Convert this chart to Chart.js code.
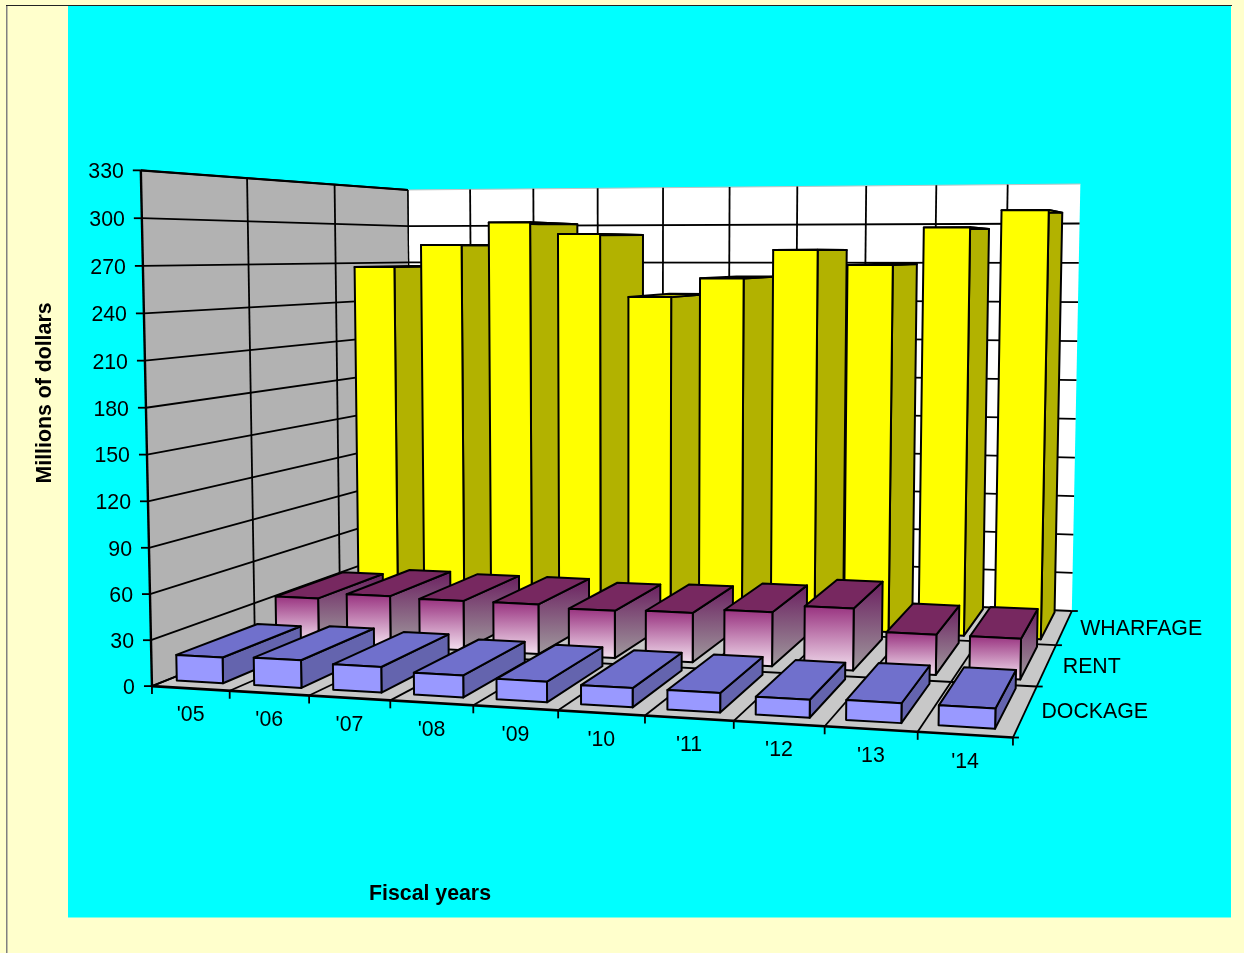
<!DOCTYPE html>
<html>
<head>
<meta charset="utf-8">
<title>Port revenue by fiscal year</title>
<script src="https://cdn.jsdelivr.net/npm/chart.js@4"></script>
<style>
  html, body { margin: 0; padding: 0; background: #ffffcc; }
  canvas { display: block; }
</style>
</head>
<body>
<canvas id="myChart" width="1244" height="953"></canvas>
<script>
const fiscalYears = ["'05", "'06", "'07", "'08", "'09", "'10", "'11", "'12", "'13", "'14"];
const seriesNames = ['DOCKAGE', 'RENT', 'WHARFAGE'];
const dockage = [17, 18, 16.5, 14, 13, 12, 12, 11, 12, 12];
const rent = [32, 36, 35, 35, 33, 34, 37, 42, 27, 27];
const wharfage = [267, 284, 301, 292, 245, 259, 280, 269, 296, 308];
const axisMax = 330;
const axisStep = 30;

const FONT = '21.3px "Liberation Sans", Arial, sans-serif';
const BOLD = 'bold 21.3px "Liberation Sans", Arial, sans-serif';
const barDepth = 0.8;     // share of a row's depth taken by its bars
const depthShift = 0.012; // rows sit slightly behind their floor bands
const barShift = -0.005;  // bars sit a little left of the category centre
const barSpread = 0.005;  // and fan out slightly towards the right

// camera anchors: [category, value, depth 0..1, screen x, screen y]
const anchors = [
  [0, 330, 0, 141.5, 170], [0, 180, 0, 145, 406.5], [0, 0, 0, 152.5, 686],
  [1, 0, 0, 230, 690], [2, 0, 0, 309, 696], [3, 0, 0, 391, 702], [4, 0, 0, 473, 705.5],
  [5, 0, 0, 558, 711], [6, 0, 0, 645, 715.5], [8, 0, 0, 824, 727], [9, 0, 0, 917, 732],
  [10, 0, 0, 1013, 737],
  [0, 330, 1, 408, 190], [3, 330, 1, 597, 188.5], [7, 330, 1, 866, 186], [10, 330, 1, 1081, 184.5],
  [10, 0, 1, 1072, 611], [10, 0, 1 / 3, 1037, 686], [10, 0, 2 / 3, 1056, 644],
  [0, 330, 1 / 3, 247.7, 178], [0, 330, 2 / 3, 334, 184.7]
];

// least squares fit of the 3x4 projection, last term fixed to 1
function fitCamera(rows) {
  const n = 11;
  const A = [];
  for (let i = 0; i < n; i++) A.push(new Array(n + 1).fill(0));
  function addEq(c, t) {
    for (let i = 0; i < n; i++) {
      for (let j = 0; j < n; j++) A[i][j] += c[i] * c[j];
      A[i][n] += c[i] * t;
    }
  }
  rows.forEach(function (r) {
    const x = r[0] / 10, y = r[1] / axisMax, z = r[2], sx = r[3], sy = r[4];
    addEq([x, y, z, 1, 0, 0, 0, 0, -sx * x, -sx * y, -sx * z], sx);
    addEq([0, 0, 0, 0, x, y, z, 1, -sy * x, -sy * y, -sy * z], sy);
  });
  for (let i = 0; i < n; i++) {
    let p = i;
    for (let k = i + 1; k < n; k++) if (Math.abs(A[k][i]) > Math.abs(A[p][i])) p = k;
    const tmp = A[i]; A[i] = A[p]; A[p] = tmp;
    for (let k = 0; k < n; k++) {
      if (k === i) continue;
      const f = A[k][i] / A[i][i];
      for (let j = i; j <= n; j++) A[k][j] -= f * A[i][j];
    }
  }
  return A.map(function (row, i) { return row[n] / row[i]; });
}
const cam = fitCamera(anchors);

// x and y are fractions of the chart area, z is depth 0..1
function project(x, y, z) {
  const w = cam[8] * x + cam[9] * y + cam[10] * z + 1;
  return {
    x: (cam[0] * x + cam[1] * y + cam[2] * z + cam[3]) / w,
    y: (cam[4] * x + cam[5] * y + cam[6] * z + cam[7]) / w
  };
}

function tracePath(ctx, pts) {
  ctx.beginPath();
  pts.forEach(function (p, i) { i ? ctx.lineTo(p.x, p.y) : ctx.moveTo(p.x, p.y); });
  ctx.closePath();
}

function face(ctx, pts, fill) {
  tracePath(ctx, pts);
  ctx.fillStyle = fill;
  ctx.fill();
  ctx.lineJoin = 'round';
  ctx.lineWidth = 2;
  ctx.strokeStyle = '#000';
  ctx.stroke();
}

function shade(ctx, top, bottom, stops) {
  const g = ctx.createLinearGradient(0, top, 0, bottom);
  g.addColorStop(0, stops[0]);
  g.addColorStop(1, stops[1]);
  return g;
}

// bars keep the library's layout, only the drawing goes through the camera
class Bar3dController extends Chart.BarController {
  draw() {
    const ctx = this.chart.ctx;
    const area = this.chart.chartArea;
    const ds = this.getDataset();
    const row = this.index;
    const z0 = (row + 0.5 - barDepth / 2) / 3 + depthShift;
    const z1 = (row + 0.5 + barDepth / 2) / 3 + depthShift;
    const w = area.right - area.left;
    const h = area.bottom - area.top;
    const place = function (px) {
      const v = (px - area.left) / w;
      return v + barShift + barSpread * (v - 0.5);
    };
    this.getMeta().data.forEach(function (bar) {
      const x0 = place(bar.x - bar.width / 2);
      const x1 = place(bar.x + bar.width / 2);
      const y = (area.bottom - bar.y) / h;
      const a = project(x0, y, z0), b = project(x1, y, z0);
      const c = project(x1, y, z1), d = project(x0, y, z1);
      const e = project(x0, 0, z0), f = project(x1, 0, z0), g = project(x1, 0, z1);
      const frontFill = ds.frontStops ? shade(ctx, a.y, e.y, ds.frontStops) : ds.backgroundColor;
      const sideFill = ds.sideStops ? shade(ctx, c.y, f.y, ds.sideStops) : ds.sideColor;
      face(ctx, [b, c, g, f], sideFill);
      face(ctx, [d, c, b, a], ds.topColor);
      face(ctx, [a, b, f, e], frontFill);
    });
  }
}
Bar3dController.id = 'bar3d';
Bar3dController.defaults = Chart.BarController.defaults;
Chart.register(Bar3dController);

function line(ctx, a, b, width, color) {
  ctx.beginPath();
  ctx.moveTo(a.x, a.y);
  ctx.lineTo(b.x, b.y);
  ctx.lineWidth = width || 1.8;
  ctx.strokeStyle = color || '#000';
  ctx.stroke();
}

const boxPlugin = {
  id: 'box',
  beforeDatasetsDraw: function (chart) {
    const ctx = chart.ctx;
    const yScale = chart.scales.y;
    const area = chart.chartArea;
    const n = fiscalYears.length;
    const frac = function (v) { return (area.bottom - yScale.getPixelForValue(v)) / (area.bottom - area.top); };

    // page and panel
    ctx.fillStyle = '#ffffcc';
    ctx.fillRect(0, 0, 1244, 953);
    ctx.fillStyle = '#00ffff';
    ctx.fillRect(68, 6, 1163, 911.5);
    ctx.fillStyle = '#808080';
    ctx.fillRect(6, 5, 1.5, 948);
    ctx.fillStyle = '#222';
    ctx.fillRect(6, 5, 1226, 1);

    // walls and floor
    tracePath(ctx, [project(0, 0, 1), project(1, 0, 1), project(1, 1, 1), project(0, 1, 1)]);
    ctx.fillStyle = '#fff';
    ctx.fill();
    tracePath(ctx, [project(0, 0, 0), project(0, 0, 1), project(0, 1, 1), project(0, 1, 0)]);
    ctx.fillStyle = '#b2b2b2';
    ctx.fill();
    tracePath(ctx, [project(0, 0, 0), project(1, 0, 0), project(1, 0, 1), project(0, 0, 1)]);
    ctx.fillStyle = '#c8c8c8';
    ctx.fill();
    line(ctx, project(0, 1, 1), project(1, 1, 1), 1, '#c4c4c4');

    // value gridlines and their labels
    ctx.font = FONT;
    ctx.textBaseline = 'middle';
    yScale.ticks.forEach(function (t) {
      const y = frac(t.value);
      const p0 = project(0, y, 0);
      line(ctx, { x: p0.x - 8, y: p0.y }, p0);
      line(ctx, p0, project(0, y, 1));
      if (t.value > 0 && t.value < axisMax) line(ctx, project(0, y, 1), project(1, y, 1));
      ctx.fillStyle = '#000';
      ctx.textAlign = 'right';
      ctx.fillText(t.label, p0.x - 17, p0.y + 2);
    });

    // category lines on floor and back wall, depth lines on floor and side wall
    for (let i = 0; i <= n; i++) {
      const x = i / n;
      line(ctx, project(x, 0, 0), project(x, 0, 1));
      if (i < n) line(ctx, project(x, 0, 1), project(x, 1, 1), i === 0 ? 1.2 : 1.8);
      const p = project(x, 0, 0);
      line(ctx, p, { x: p.x, y: p.y + 8 });
    }
    const rows = seriesNames.length;
    for (let j = 0; j <= rows; j++) {
      const z = j / rows;
      line(ctx, project(0, 0, z), project(1, 0, z), j === 0 ? 2.6 : 1.8);
      line(ctx, project(0, 0, z), project(0, 1, z), j === 0 ? 2.4 : (j === rows ? 1.2 : 1.8));
      const p = project(1, 0, z);
      line(ctx, p, { x: p.x + 6, y: p.y });
    }
    line(ctx, project(0, 1, 0), project(0, 1, 1), 2.2);
  },
  afterDatasetsDraw: function (chart) {
    const ctx = chart.ctx;
    const n = fiscalYears.length;
    ctx.fillStyle = '#000';
    ctx.font = FONT;
    ctx.textBaseline = 'middle';

    ctx.textAlign = 'center';
    fiscalYears.forEach(function (label, i) {
      const p = project((i + 0.5) / n, 0, 0);
      ctx.fillText(label, p.x, p.y + 27);
    });

    ctx.textAlign = 'left';
    seriesNames.forEach(function (name, j) {
      const p = project(1, 0, (j + 0.5) / seriesNames.length);
      ctx.fillText(name, p.x + 16, p.y + 2);
    });

    ctx.font = BOLD;
    ctx.textAlign = 'center';
    ctx.fillText('Fiscal years', 430, 894);
    ctx.save();
    ctx.translate(45, 393);
    ctx.rotate(-Math.PI / 2);
    ctx.fillText('Millions of dollars', 0, 0);
    ctx.restore();
  }
};

const ctx = document.getElementById('myChart');
const myChart = new Chart(ctx, {
  type: 'bar3d',
  plugins: [boxPlugin],
  data: {
    labels: fiscalYears,
    datasets: [
      {
        label: seriesNames[0], data: dockage, clip: false,
        backgroundColor: '#9999ff', sideColor: '#6464ae', topColor: '#7070cc'
      },
      {
        label: seriesNames[1], data: rent, clip: false,
        backgroundColor: '#993388', topColor: '#772860',
        frontStops: ['#993380', '#efd8ea'], sideStops: ['#6b2060', '#a09a9e']
      },
      {
        label: seriesNames[2], data: wharfage, clip: false,
        backgroundColor: '#ffff00', sideColor: '#b2b200', topColor: '#b2b200'
      }
    ]
  },
  options: {
    responsive: false,
    animation: false,
    layout: { padding: { left: 152, right: 230, top: 170, bottom: 268 } },
    datasets: { bar3d: { grouped: false, categoryPercentage: 1, barPercentage: 0.6 } },
    scales: {
      x: { type: 'category', offset: true, display: false },
      y: { type: 'linear', min: 0, max: axisMax, display: false, ticks: { stepSize: axisStep } }
    },
    plugins: { legend: { display: false }, tooltip: { enabled: false } }
  }
});
</script>
</body>
</html>
